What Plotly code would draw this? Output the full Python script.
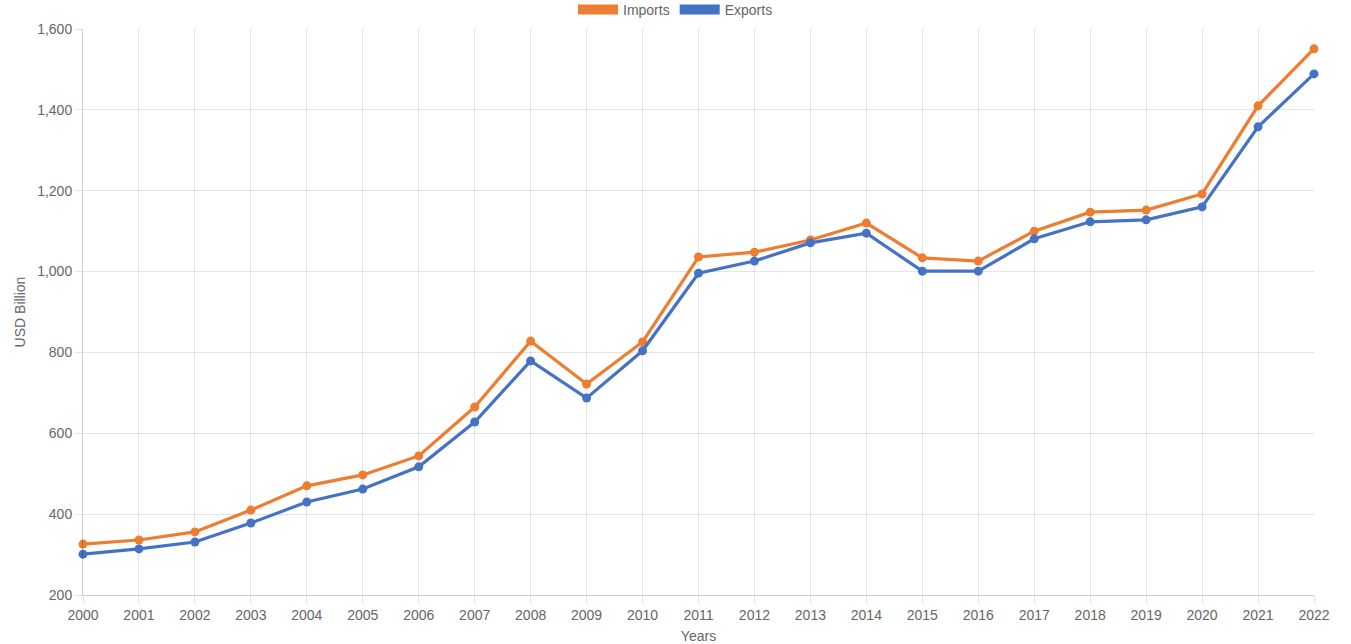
import plotly.graph_objects as go

years = list(range(2000, 2023))
imports = [326, 336, 356, 410, 470, 497, 544, 665, 828, 722, 826, 1036, 1048, 1078, 1120,
           1034, 1026, 1100, 1147, 1152, 1192, 1410, 1551]
exports = [301, 314, 331, 378, 430, 462, 517, 628, 779, 687, 804, 996, 1026, 1071, 1095,
           1001, 1001, 1081, 1123, 1128, 1160, 1358, 1489]
y_ticks = [200, 400, 600, 800, 1000, 1200, 1400, 1600]

ORANGE = "#ED7D31"
BLUE = "#4472C4"
FONT = "Liberation Sans"
TXT = "#666666"
GRID = "rgba(0,0,0,0.1)"

fig = go.Figure()
for name, vals, col in [("Imports", imports, ORANGE), ("Exports", exports, BLUE)]:
    fig.add_trace(go.Scatter(x=years, y=vals, mode="lines+markers", name=name,
                             line=dict(color=col, width=3.2),
                             marker=dict(color=col, size=9, line=dict(width=0)),
                             cliponaxis=False, showlegend=False))
# legend entries styled as boxes
for name, col in [("Imports", ORANGE), ("Exports", BLUE)]:
    fig.add_trace(go.Scatter(x=[None], y=[None], mode="lines", name=name,
                             line=dict(color=col, width=16), showlegend=True))

fig.update_layout(
    width=1351, height=644,
    margin=dict(l=83, r=37, t=29, b=49, autoexpand=False),
    paper_bgcolor="white", plot_bgcolor="white",
    font=dict(family=FONT, size=14, color=TXT),
    legend=dict(orientation="h", x=0.5, xanchor="center", xref="container",
                y=1.0, yanchor="top", yref="container",
                font=dict(size=14, color=TXT), itemwidth=40,
                bgcolor="rgba(0,0,0,0)"),
    showlegend=True,
)
fig.update_xaxes(range=[2000, 2022], tickmode="array", tickvals=years,
                 ticktext=[str(y) for y in years],
                 showgrid=True, gridcolor=GRID, gridwidth=1,
                 showline=True, linecolor="rgba(0,0,0,0.2)", linewidth=1,
                 ticks="outside", ticklen=7, tickcolor=GRID,
                 zeroline=False, automargin=False,
                 title=dict(text="Years", font=dict(size=14, color=TXT), standoff=18),
                 tickfont=dict(size=14, color=TXT))
fig.update_yaxes(range=[200, 1600], tickmode="array", tickvals=y_ticks,
                 tickformat=",", showgrid=True, gridcolor=GRID, gridwidth=1,
                 showline=True, linecolor="rgba(0,0,0,0.2)", linewidth=1,
                 ticks="outside", ticklen=7, tickcolor=GRID,
                 zeroline=False, automargin=False,
                 title=dict(text="USD Billion", font=dict(size=14, color=TXT), standoff=8),
                 tickfont=dict(size=14, color=TXT))

fig.write_html("out.html", config={"displayModeBar": False},
               post_script="document.body.style.margin='0';document.body.style.overflow='hidden';"
                           "var l=document.querySelector('.legend');"
                           "if(l){var t=l.getAttribute('transform');"
                           "l.setAttribute('transform',t.replace(/,\\s*([\\d.]+)\\)/,function(m,a){return ','+(parseFloat(a)-6)+')';}));}")
